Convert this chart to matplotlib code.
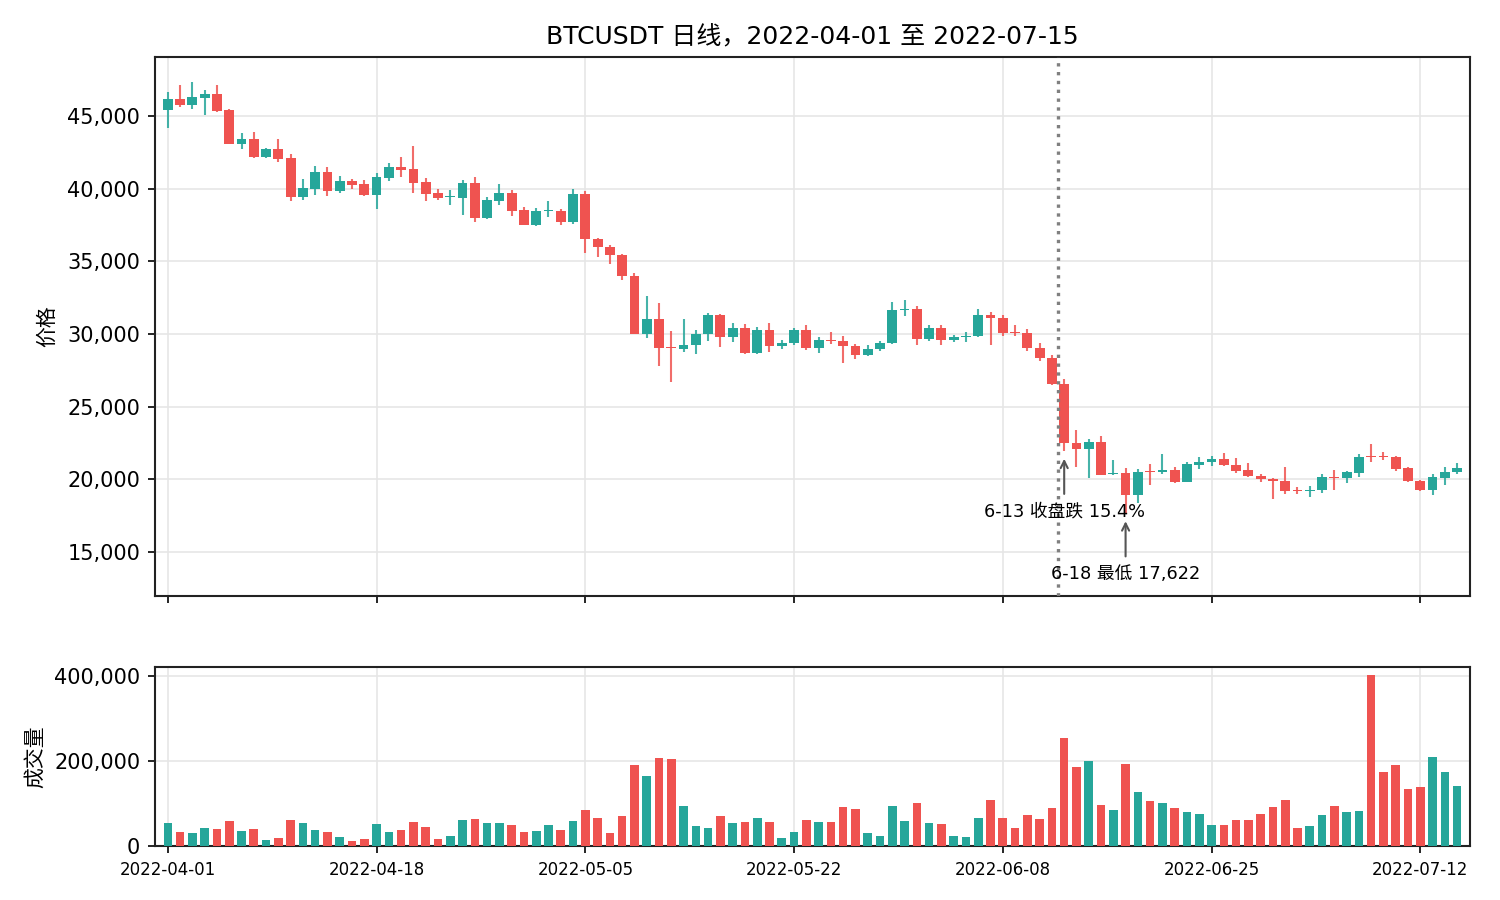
import numpy as np
import pandas as pd
import matplotlib
matplotlib.use('Agg')
import matplotlib.pyplot as plt
import matplotlib.dates as mdates
from matplotlib.ticker import FuncFormatter

plt.rcParams['font.family'] = ['DejaVu Sans', 'Noto Sans CJK SC']

# daily bars 2022-04-01 .. 2022-07-15
dates = pd.date_range('2022-04-01', '2022-07-15', freq='D')

opens = [45400, 46160, 45730, 46270, 46520, 45430, 43070, 43390, 42180, 42700,
         42090, 39450, 40000, 41140, 39860, 40520, 40320, 39590, 40750, 41480,
         41340, 40460, 39700, 39400, 39380, 40390, 38010, 39180, 39700, 38540,
         37530, 38450, 38470, 37670, 39640, 36550, 36000, 35460, 34020, 30000,
         31000, 29050, 28950, 29220, 29980, 31330, 29770, 30440, 28670, 30300,
         29150, 29360, 30300, 29010, 29610, 29540, 29200, 28530, 28950, 29350,
         31670, 31740, 29680, 30430, 29610, 29770, 29840, 31320, 31120, 30160,
         30090, 29060, 28380, 26530, 22490, 22100, 22580, 20340, 20430, 18900,
         20530, 20480, 20670, 19840, 21010, 21170, 21420, 21010, 20670, 20250,
         20050, 19910, 19240, 19200, 19240, 20180, 20070, 20460, 21580, 21580,
         21560, 20800, 19910, 19240, 20120, 20480]
highs = [46660, 47110, 47340, 46800, 47110, 45450, 43860, 43930, 42770, 43390,
         42360, 40660, 41550, 41480, 40860, 40660, 40590, 41070, 41750, 42160,
         42910, 40730, 39980, 39910, 40590, 40800, 39430, 40320, 39910, 38740,
         38680, 39160, 38610, 39980, 39840, 36620, 36140, 35530, 34220, 32640,
         32160, 30230, 31050, 30300, 31470, 31400, 30780, 30710, 30500, 30780,
         29610, 30440, 30640, 29820, 30160, 29890, 29340, 29270, 29540, 32220,
         32350, 31940, 30640, 30640, 29950, 30160, 31740, 31530, 31320, 30640,
         30370, 29410, 28520, 26870, 23380, 22760, 22990, 21320, 20780, 20710,
         21030, 21720, 20870, 21220, 21540, 21580, 21840, 21490, 21150, 20390,
         20120, 20870, 19450, 19540, 20340, 20670, 20600, 21770, 22450, 21900,
         21580, 20830, 19980, 20340, 20870, 21150]
lows = [44160, 45590, 45450, 45050, 45300, 43050, 42730, 42090, 42090, 41840,
        39180, 39250, 39590, 39520, 39730, 40000, 39520, 38570, 40550, 40820,
        39730, 39180, 39220, 38900, 38220, 37670, 37880, 38900, 38150, 37500,
        37400, 38080, 37530, 37600, 35550, 35270, 34800, 33700, 29980, 29720,
        27790, 26670, 28740, 28600, 29500, 29080, 29430, 28650, 28650, 28740,
        28950, 29220, 28880, 28670, 29290, 27980, 28260, 28460, 28810, 29280,
        31210, 29270, 29540, 29270, 29480, 29480, 29800, 29220, 29840, 29890,
        28810, 28130, 26470, 21960, 20870, 20120, 20270, 20270, 17622, 18400,
        19590, 20340, 19730, 19800, 20690, 20900, 20940, 20460, 20190, 19790,
        18620, 18970, 18990, 18780, 19040, 19240, 19730, 20180, 21170, 21310,
        20600, 19840, 19170, 18900, 19590, 20340]
closes = [46160, 45730, 46320, 46520, 45360, 43070, 43390, 42180, 42700, 42050,
          39450, 40050, 41140, 39860, 40520, 40270, 39590, 40800, 41480, 41300,
          40410, 39660, 39380, 39450, 40390, 38010, 39220, 39700, 38490, 37530,
          38470, 38480, 37670, 39640, 36510, 35960, 35410, 33970, 30020, 31000,
          29030, 29010, 29270, 30020, 31330, 29770, 30440, 28670, 30300, 29150,
          29400, 30300, 29010, 29610, 29500, 29150, 28530, 28990, 29400, 31670,
          31740, 29680, 30430, 29610, 29820, 29890, 31320, 31120, 30090, 30050,
          29020, 28330, 26580, 22490, 22100, 22580, 20320, 20410, 18950, 20530,
          20480, 20670, 19840, 21080, 21220, 21420, 20960, 20600, 20210, 20000,
          19860, 19170, 19170, 19270, 20180, 20070, 20530, 21560, 21540, 21540,
          20730, 19860, 19240, 20180, 20530, 20800]
volumes = [54500, 33000, 31000, 43000, 40000, 59000, 36000, 40000, 14000, 19000,
           62000, 54500, 38000, 33000, 21000, 12000, 17000, 52000, 33000, 38000,
           57000, 45000, 17000, 24000, 62000, 64000, 54500, 54500, 50000, 33000,
           36000, 50000, 38000, 59000, 85000, 66000, 31000, 71000, 190000, 164000,
           206000, 204000, 95000, 47000, 43000, 71000, 54500, 57000, 66000, 57000,
           19000, 33000, 62000, 57000, 57000, 92000, 88000, 31000, 24000, 95000,
           59000, 102000, 54500, 52000, 24000, 21000, 66000, 109000, 66000, 43000,
           73500, 64000, 90000, 254000, 185000, 199000, 97000, 85000, 194000, 126000,
           107000, 102000, 90000, 81000, 76000, 50000, 50000, 62000, 62000, 76000,
           92000, 109000, 43000, 47000, 73500, 95000, 81000, 83000, 403000, 175000,
           190000, 135000, 138000, 209000, 173000, 142000]

UP = '#26a69a'
DOWN = '#ef5350'

o = np.array(opens, dtype=float)
h = np.array(highs, dtype=float)
l = np.array(lows, dtype=float)
c = np.array(closes, dtype=float)
v = np.array(volumes, dtype=float)
x = mdates.date2num(dates)
up = c >= o
cols = np.where(up, UP, DOWN)

fig = plt.figure(figsize=(10, 6), dpi=150)
ax = fig.add_axes([0.1033, 0.3378, 0.8767, 0.5989])
axv = fig.add_axes([0.1033, 0.06, 0.8767, 0.1989], sharex=ax)

# candles: wick then body
ax.vlines(x, l, h, colors=cols, linewidth=1.0, alpha=0.85, zorder=2)
body_lo = np.minimum(o, c)
body_h = np.maximum(np.abs(c - o), 70)
ax.bar(x, body_h, bottom=body_lo, width=0.8, color=cols, zorder=3)

# volume
axv.bar(x, v, width=0.7, color=cols, zorder=3)

# 6-13 marker line
ax.axvline(x[72] + 0.5, color='gray', linestyle=':', linewidth=1.6, zorder=4)

arrow = dict(arrowstyle='->', color='#555555', lw=1.0)
ax.annotate('6-13 收盘跌 15.4%', xy=(x[73], 21700), xytext=(x[73], 17800),
            ha='center', va='center', fontsize=8.5, arrowprops=arrow, zorder=5)
ax.annotate('6-18 最低 17,622', xy=(x[78], 17400), xytext=(x[78], 13500),
            ha='center', va='center', fontsize=8.5, arrowprops=arrow, zorder=5)

ax.set_xlim(x[0] - 1.05, x[-1] + 1.05)
ax.set_ylim(11970, 49060)
axv.set_ylim(0, 421000)

ax.set_yticks([15000, 20000, 25000, 30000, 35000, 40000, 45000])
axv.set_yticks([0, 200000, 400000])
comma = FuncFormatter(lambda val, pos: f'{val:,.0f}')
ax.yaxis.set_major_formatter(comma)
axv.yaxis.set_major_formatter(comma)

axv.set_xticks(x[::17])
axv.xaxis.set_major_formatter(mdates.DateFormatter('%Y-%m-%d'))
plt.setp(ax.get_xticklabels(), visible=False)

for a in (ax, axv):
    a.grid(True, color='#e6e6e6', linewidth=0.8, zorder=0)
    a.set_axisbelow(True)
    a.tick_params(axis='y', labelsize=10)
    for s in a.spines.values():
        s.set_linewidth(1.0)
        s.set_color('#222222')
axv.tick_params(axis='x', labelsize=8)

ax.set_ylabel('价格', fontsize=10)
axv.set_ylabel('成交量', fontsize=10)
ax.yaxis.set_label_coords(-0.0745, 0.5)
axv.yaxis.set_label_coords(-0.0833, 0.5)
ax.set_title('BTCUSDT 日线，2022-04-01 至 2022-07-15', fontsize=12)

fig.savefig('out.png', dpi=150)
